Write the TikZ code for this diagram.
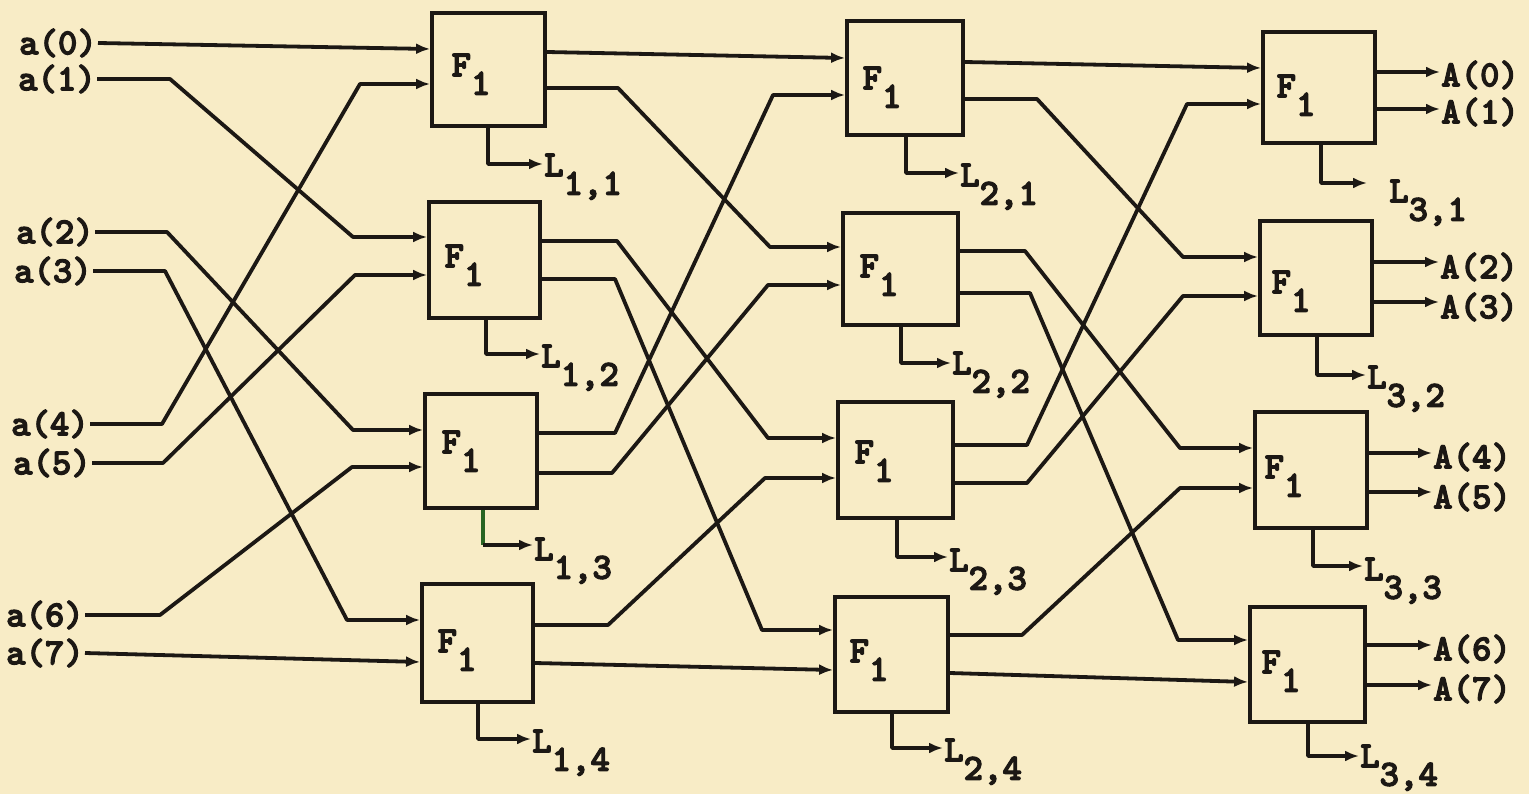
\documentclass[tikz,border=0pt]{standalone}
\usepackage{fontspec}
\usetikzlibrary{arrows.meta,calc}

% heavy typewriter face
\newfontfamily\twfont{lmmonolt10-bold.otf}[FakeBold=3]
% lowered index, as set by a typewriter half-line down
\newcommand\lowidx[1]{\raisebox{-0.5em}[0pt][0pt]{#1}}

\definecolor{paper}{RGB}{248,236,198}
\definecolor{ink}{RGB}{28,24,20}
\definecolor{leafgreen}{RGB}{40,100,35}

\tikzset{
  wire/.style={draw=ink, line width=3.8pt, line join=round},
  arr/.style={wire, -{Latex[length=14pt,width=11pt]}},
  unit/.style={draw=ink, line width=3.8pt, inner sep=0pt, fill=none},
  txt/.style={font=\twfont\fontsize{37}{37}\selectfont, text=ink, inner sep=1pt},
}

\begin{document}
\begin{tikzpicture}[x=1pt, y=-1pt]
\fill[paper] (0,0) rectangle (1529,794);
\useasboundingbox (0,0) rectangle (1529,794);

% ---------- F1 blocks ----------
\node[unit, minimum width=113pt, minimum height=113pt] (b11) at (488.5,69.5) {};
\node[unit, minimum width=111pt, minimum height=116pt] (b12) at (484.5,260) {};
\node[unit, minimum width=112pt, minimum height=114pt] (b13) at (481,451) {};
\node[unit, minimum width=111pt, minimum height=118pt] (b14) at (477.5,643) {};
\node[unit, minimum width=116pt, minimum height=114pt] (b21) at (905,78) {};
\node[unit, minimum width=115pt, minimum height=112pt] (b22) at (900.5,269) {};
\node[unit, minimum width=115pt, minimum height=116pt] (b23) at (895.5,460) {};
\node[unit, minimum width=113pt, minimum height=115pt] (b24) at (891.5,654.5) {};
\node[unit, minimum width=112pt, minimum height=111pt] (b31) at (1319,87.5) {};
\node[unit, minimum width=112pt, minimum height=114pt] (b32) at (1316,278) {};
\node[unit, minimum width=112pt, minimum height=116pt] (b33) at (1311,470) {};
\node[unit, minimum width=115pt, minimum height=115pt] (b34) at (1307.5,664.5) {};

\node[txt] (f11) at (471,65)  {F\lowidx{1}};
\node[txt] (f12) at (464,256) {F\lowidx{1}};
\node[txt] (f13) at (461,442) {F\lowidx{1}};
\node[txt] (f14) at (457,641) {F\lowidx{1}};
\node[txt] (f21) at (882,78)  {F\lowidx{1}};
\node[txt] (f22) at (879,266) {F\lowidx{1}};
\node[txt] (f23) at (874,452) {F\lowidx{1}};
\node[txt] (f24) at (869,651) {F\lowidx{1}};
\node[txt] (f31) at (1296,86) {F\lowidx{1}};
\node[txt] (f32) at (1291,282) {F\lowidx{1}};
\node[txt] (f33) at (1284,467) {F\lowidx{1}};
\node[txt] (f34) at (1281,662) {F\lowidx{1}};

% ---------- inputs ----------
\node[txt, anchor=east] (a0) at (98,43)  {a(0)};
\node[txt, anchor=east] (a1) at (97,79)  {a(1)};
\node[txt, anchor=east] (a2) at (95,232) {a(2)};
\node[txt, anchor=east] (a3) at (93,271) {a(3)};
\node[txt, anchor=east] (a4) at (90,424) {a(4)};
\node[txt, anchor=east] (a5) at (92,463) {a(5)};
\node[txt, anchor=east] (a6) at (85,615) {a(6)};
\node[txt, anchor=east] (a7) at (85,653) {a(7)};

\draw[arr] (a0.east) -- (b11.west |- 0,49);
\draw[arr] (a1.east) -- (170,79)  -- (353,237) -- (b12.west |- 0,237);
\draw[arr] (a2.east) -- (167,232) -- (353,430) -- (b13.west |- 0,430);
\draw[arr] (a3.east) -- (165,271) -- (347,620) -- (b14.west |- 0,620);
\draw[arr] (a4.east) -- (162,424) -- (360,84)  -- (b11.west |- 0,84);
\draw[arr] (a5.east) -- (163,463) -- (355,275) -- (b12.west |- 0,275);
\draw[arr] (a6.east) -- (160,615) -- (352,467) -- (b13.west |- 0,467);
\draw[arr] (a7.east) -- (b14.west |- 0,662);

% ---------- stage 1 to stage 2 ----------
\draw[arr] (b11.east |- 0,52)  -- (b21.west |- 0,58);
\draw[arr] (b11.east |- 0,88)  -- (618,88)  -- (770,247) -- (b22.west |- 0,247);
\draw[arr] (b12.east |- 0,241) -- (617,241) -- (768,438) -- (b23.west |- 0,438);
\draw[arr] (b12.east |- 0,279) -- (615,279) -- (762,630) -- (b24.west |- 0,630);
\draw[arr] (b13.east |- 0,433) -- (615,433) -- (773,95)  -- (b21.west |- 0,95);
\draw[arr] (b13.east |- 0,473) -- (612,473) -- (768,285) -- (b22.west |- 0,285);
\draw[arr] (b14.east |- 0,625) -- (608,625) -- (765,478) -- (b23.west |- 0,478);
\draw[arr] (b14.east |- 0,663) -- (b24.west |- 0,670);

% ---------- stage 2 to stage 3 ----------
\draw[arr] (b21.east |- 0,62)  -- (b31.west |- 0,68);
\draw[arr] (b21.east |- 0,99)  -- (1037,99)  -- (1183,257) -- (b32.west |- 0,257);
\draw[arr] (b22.east |- 0,251) -- (1025,251) -- (1180,448) -- (b33.west |- 0,448);
\draw[arr] (b22.east |- 0,293) -- (1030,293) -- (1178,640) -- (b34.west |- 0,640);
\draw[arr] (b23.east |- 0,445) -- (1027,445) -- (1187,104) -- (b31.west |- 0,104);
\draw[arr] (b23.east |- 0,483) -- (1027,483) -- (1183,296) -- (b32.west |- 0,296);
\draw[arr] (b24.east |- 0,635) -- (1022,635) -- (1180,488) -- (b33.west |- 0,488);
\draw[arr] (b24.east |- 0,673) -- (b34.west |- 0,682);

% ---------- outputs ----------
\node[txt, anchor=west] (A0) at (1440,75)  {A(0)};
\node[txt, anchor=west] (A1) at (1440,112) {A(1)};
\node[txt, anchor=west] (A2) at (1439,267) {A(2)};
\node[txt, anchor=west] (A3) at (1439,307) {A(3)};
\node[txt, anchor=west] (A4) at (1432,457) {A(4)};
\node[txt, anchor=west] (A5) at (1432,497) {A(5)};
\node[txt, anchor=west] (A6) at (1432,649) {A(6)};
\node[txt, anchor=west] (A7) at (1432,689) {A(7)};

\draw[arr] (b31.east |- 0,72)  -- (A0.west |- 0,72);
\draw[arr] (b31.east |- 0,109) -- (A1.west |- 0,109);
\draw[arr] (b32.east |- 0,262) -- (A2.west |- 0,262);
\draw[arr] (b32.east |- 0,302) -- (A3.west |- 0,302);
\draw[arr] (b33.east |- 0,453) -- (A4.west |- 0,453);
\draw[arr] (b33.east |- 0,492) -- (A5.west |- 0,492);
\draw[arr] (b34.east |- 0,645) -- (A6.west |- 0,645);
\draw[arr] (b34.east |- 0,685) -- (A7.west |- 0,685);

% ---------- L outputs below each block ----------
\node[txt, anchor=west] (L11) at (543,165)  {L\lowidx{1,1}};
\node[txt, anchor=west] (L12) at (540,356)  {L\lowidx{1,2}};
\node[txt, anchor=west] (L13) at (533,549)  {L\lowidx{1,3}};
\node[txt, anchor=west] (L14) at (531,741)  {L\lowidx{1,4}};
\node[txt, anchor=west] (L21) at (959,175)  {L\lowidx{2,1}};
\node[txt, anchor=west] (L22) at (951,363)  {L\lowidx{2,2}};
\node[txt, anchor=west] (L23) at (948,560)  {L\lowidx{2,3}};
\node[txt, anchor=west] (L24) at (943,750)  {L\lowidx{2,4}};
\node[txt, anchor=west] (L31) at (1388,191) {L\lowidx{3,1}};
\node[txt, anchor=west] (L32) at (1366,377) {L\lowidx{3,2}};
\node[txt, anchor=west] (L33) at (1363,569) {L\lowidx{3,3}};
\node[txt, anchor=west] (L34) at (1359,756) {L\lowidx{3,4}};

\coordinate (t31) at (1367,183);
\coordinate (c13) at (483,545);

\draw[arr] (b11.south -| 488,0)  |- (L11.west |- 0,164);
\draw[arr] (b12.south -| 486,0)  |- (L12.west |- 0,354);
\draw[wire, draw=leafgreen] (b13.south -| c13) -- (c13);
\draw[arr] (c13) -- (L13.west |- c13);
\draw[arr] (b14.south -| 478,0)  |- (L14.west |- 0,739);
\draw[arr] (b21.south -| 906,0)  |- (L21.west |- 0,173);
\draw[arr] (b22.south -| 901,0)  |- (L22.west |- 0,363);
\draw[arr] (b23.south -| 897,0)  |- (L23.west |- 0,557);
\draw[arr] (b24.south -| 892,0)  |- (L24.west |- 0,748);
\draw[arr] (b31.south -| 1321,0) |- (t31);
\draw[arr] (b32.south -| 1317,0) |- (L32.west |- 0,375);
\draw[arr] (b33.south -| 1313,0) |- (L33.west |- 0,566);
\draw[arr] (b34.south -| 1308,0) |- (L34.west |- 0,756);
\end{tikzpicture}
\end{document}
